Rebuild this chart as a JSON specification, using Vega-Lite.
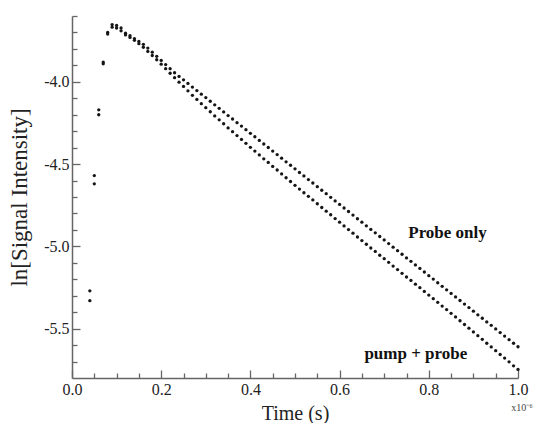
{
  "$schema": "https://vega.github.io/schema/vega-lite/v6.json",
  "width": 446,
  "height": 362,
  "autosize": {"type": "none"},
  "padding": {"left": 72, "top": 16, "right": 15, "bottom": 45},
  "background": "white",
  "config": {"view": {"stroke": null}, "font": "Liberation Serif"},
  "datasets": {
    "decay": [
      {"t":0.04,"probe":-5.27,"pump":-5.33},
      {"t":0.05,"probe":-4.57,"pump":-4.62},
      {"t":0.06,"probe":-4.17,"pump":-4.20},
      {"t":0.07,"probe":-3.88,"pump":-3.89},
      {"t":0.08,"probe":-3.70,"pump":-3.71},
      {"t":0.09,"probe":-3.652,"pump":-3.668},
      {"t":0.10,"probe":-3.657,"pump":-3.673},
      {"t":0.11,"probe":-3.673,"pump":-3.690},
      {"t":0.12,"probe":-3.705,"pump":-3.715},
      {"t":0.13,"probe":-3.720,"pump":-3.730},
      {"t":0.14,"probe":-3.737,"pump":-3.748},
      {"t":0.15,"probe":-3.755,"pump":-3.768},
      {"t":0.16,"probe":-3.772,"pump":-3.790},
      {"t":0.17,"probe":-3.795,"pump":-3.815},
      {"t":0.18,"probe":-3.820,"pump":-3.840},
      {"t":0.19,"probe":-3.845,"pump":-3.866},
      {"t":0.20,"probe":-3.870,"pump":-3.893},
      {"t":0.21,"probe":-3.895,"pump":-3.920},
      {"t":0.22,"probe":-3.920,"pump":-3.948},
      {"t":0.23,"probe":-3.945,"pump":-3.975},
      {"t":0.24,"probe":-3.967,"pump":-4.002},
      {"t":0.25,"probe":-3.988,"pump":-4.028},
      {"t":0.26,"probe":-4.010,"pump":-4.055},
      {"t":0.27,"probe":-4.032,"pump":-4.082},
      {"t":0.28,"probe":-4.053,"pump":-4.107},
      {"t":0.29,"probe":-4.075,"pump":-4.133},
      {"t":0.30,"probe":-4.096,"pump":-4.157},
      {"t":0.31,"probe":-4.118,"pump":-4.182},
      {"t":0.32,"probe":-4.140,"pump":-4.207},
      {"t":0.33,"probe":-4.161,"pump":-4.231},
      {"t":0.34,"probe":-4.183,"pump":-4.255},
      {"t":0.35,"probe":-4.205,"pump":-4.280},
      {"t":0.36,"probe":-4.226,"pump":-4.303},
      {"t":0.37,"probe":-4.248,"pump":-4.327},
      {"t":0.38,"probe":-4.269,"pump":-4.350},
      {"t":0.39,"probe":-4.291,"pump":-4.374},
      {"t":0.40,"probe":-4.313,"pump":-4.398},
      {"t":0.41,"probe":-4.334,"pump":-4.421},
      {"t":0.42,"probe":-4.356,"pump":-4.444},
      {"t":0.43,"probe":-4.378,"pump":-4.468},
      {"t":0.44,"probe":-4.399,"pump":-4.490},
      {"t":0.45,"probe":-4.421,"pump":-4.514},
      {"t":0.46,"probe":-4.442,"pump":-4.536},
      {"t":0.47,"probe":-4.464,"pump":-4.560},
      {"t":0.48,"probe":-4.486,"pump":-4.583},
      {"t":0.49,"probe":-4.507,"pump":-4.606},
      {"t":0.50,"probe":-4.529,"pump":-4.629},
      {"t":0.51,"probe":-4.551,"pump":-4.652},
      {"t":0.52,"probe":-4.572,"pump":-4.674},
      {"t":0.53,"probe":-4.594,"pump":-4.696},
      {"t":0.54,"probe":-4.615,"pump":-4.718},
      {"t":0.55,"probe":-4.637,"pump":-4.741},
      {"t":0.56,"probe":-4.659,"pump":-4.764},
      {"t":0.57,"probe":-4.680,"pump":-4.786},
      {"t":0.58,"probe":-4.702,"pump":-4.808},
      {"t":0.59,"probe":-4.724,"pump":-4.831},
      {"t":0.60,"probe":-4.745,"pump":-4.853},
      {"t":0.61,"probe":-4.767,"pump":-4.876},
      {"t":0.62,"probe":-4.788,"pump":-4.898},
      {"t":0.63,"probe":-4.810,"pump":-4.920},
      {"t":0.64,"probe":-4.832,"pump":-4.943},
      {"t":0.65,"probe":-4.853,"pump":-4.965},
      {"t":0.66,"probe":-4.875,"pump":-4.987},
      {"t":0.67,"probe":-4.897,"pump":-5.010},
      {"t":0.68,"probe":-4.918,"pump":-5.031},
      {"t":0.69,"probe":-4.940,"pump":-5.054},
      {"t":0.70,"probe":-4.961,"pump":-5.075},
      {"t":0.71,"probe":-4.983,"pump":-5.097},
      {"t":0.72,"probe":-5.005,"pump":-5.120},
      {"t":0.73,"probe":-5.026,"pump":-5.141},
      {"t":0.74,"probe":-5.048,"pump":-5.164},
      {"t":0.75,"probe":-5.070,"pump":-5.186},
      {"t":0.76,"probe":-5.091,"pump":-5.207},
      {"t":0.77,"probe":-5.113,"pump":-5.230},
      {"t":0.78,"probe":-5.134,"pump":-5.251},
      {"t":0.79,"probe":-5.156,"pump":-5.274},
      {"t":0.80,"probe":-5.178,"pump":-5.296},
      {"t":0.81,"probe":-5.199,"pump":-5.318},
      {"t":0.82,"probe":-5.221,"pump":-5.340},
      {"t":0.83,"probe":-5.243,"pump":-5.363},
      {"t":0.84,"probe":-5.264,"pump":-5.384},
      {"t":0.85,"probe":-5.286,"pump":-5.407},
      {"t":0.86,"probe":-5.307,"pump":-5.429},
      {"t":0.87,"probe":-5.329,"pump":-5.452},
      {"t":0.88,"probe":-5.351,"pump":-5.475},
      {"t":0.89,"probe":-5.372,"pump":-5.497},
      {"t":0.90,"probe":-5.394,"pump":-5.520},
      {"t":0.91,"probe":-5.416,"pump":-5.543},
      {"t":0.92,"probe":-5.437,"pump":-5.565},
      {"t":0.93,"probe":-5.459,"pump":-5.589},
      {"t":0.94,"probe":-5.480,"pump":-5.611},
      {"t":0.95,"probe":-5.502,"pump":-5.634},
      {"t":0.96,"probe":-5.524,"pump":-5.657},
      {"t":0.97,"probe":-5.545,"pump":-5.679},
      {"t":0.98,"probe":-5.567,"pump":-5.702},
      {"t":0.99,"probe":-5.589,"pump":-5.726},
      {"t":1.00,"probe":-5.610,"pump":-5.748}
    ],
    "notes": [
      {"t":0.842,"v":-4.921,"label":"Probe only"},
      {"t":0.771,"v":-5.652,"label":"pump + probe"}
    ]
  },
  "layer": [
    {
      "data": {"name": "decay"},
      "mark": {"type": "point", "filled": true, "size": 11, "color": "#151515", "opacity": 1},
      "encoding": {
        "x": {
          "field": "t", "type": "quantitative",
          "scale": {"domain": [0, 1], "nice": false, "zero": false},
          "axis": {
            "orient": "bottom", "values": [0, 0.2, 0.4, 0.6, 0.8, 1.0], "format": ".1f",
            "grid": false, "tickSize": -8, "tickColor": "#666", "tickWidth": 1.3,
            "domainColor": "#666", "domainWidth": 1.5,
            "labelFont": "Liberation Serif", "labelFontSize": 16, "labelColor": "#222",
            "labelPadding": 11, "labelFlush": false,
            "title": "Time (s)", "titleFont": "Liberation Serif", "titleFontSize": 20,
            "titleFontWeight": "normal", "titleColor": "#222", "titlePadding": 6
          }
        },
        "y": {
          "field": "probe", "type": "quantitative",
          "scale": {"domain": [-5.8, -3.6], "nice": false, "zero": false},
          "axis": {
            "orient": "left", "values": [-5.5, -5.0, -4.5, -4.0],
            "labelExpr": "replace(format(datum.value, '.1f'), '\u2212', '-')",
            "grid": false, "tickSize": -8, "tickColor": "#666", "tickWidth": 1.3,
            "domainColor": "#666", "domainWidth": 1.5,
            "labelFont": "Liberation Serif", "labelFontSize": 16, "labelColor": "#222",
            "labelPadding": 11,
            "title": "ln[Signal Intensity]", "titleFont": "Liberation Serif", "titleFontSize": 23,
            "titleFontWeight": "normal", "titleColor": "#222", "titlePadding": 12
          }
        }
      }
    },
    {
      "data": {"name": "decay"},
      "mark": {"type": "point", "filled": true, "size": 11, "color": "#151515", "opacity": 1},
      "encoding": {
        "x": {
          "field": "t", "type": "quantitative",
          "axis": {
            "orient": "bottom",
            "values": [0.05, 0.1, 0.15, 0.25, 0.3, 0.35, 0.45, 0.5, 0.55, 0.65, 0.7, 0.75, 0.85, 0.9, 0.95],
            "grid": false, "tickSize": -5, "tickColor": "#666", "tickWidth": 1.3,
            "domain": false, "labels": false, "title": null
          }
        },
        "y": {
          "field": "pump", "type": "quantitative",
          "axis": {
            "orient": "left",
            "values": [-5.7, -5.6, -5.4, -5.3, -5.2, -5.1, -4.9, -4.8, -4.7, -4.6, -4.4, -4.3, -4.2, -4.1, -3.9, -3.8, -3.7, -3.6],
            "grid": false, "tickSize": -5, "tickColor": "#666", "tickWidth": 1.3,
            "domain": false, "labels": false, "title": null
          }
        }
      }
    },
    {
      "data": {"name": "notes"},
      "mark": {"type": "text", "font": "Liberation Serif", "fontSize": 17, "fontWeight": "bold", "color": "#111", "align": "center", "baseline": "middle"},
      "encoding": {
        "x": {"field": "t", "type": "quantitative", "axis": null},
        "y": {"field": "v", "type": "quantitative", "axis": null},
        "text": {"field": "label"}
      }
    },
    {
      "data": {"values": [{"t": 0.985, "v": -5.985, "label": "x10⁻⁶"}]},
      "mark": {"type": "text", "font": "Liberation Serif", "fontSize": 10, "color": "#444", "align": "left", "baseline": "middle"},
      "encoding": {
        "x": {"field": "t", "type": "quantitative", "axis": null},
        "y": {"field": "v", "type": "quantitative", "axis": null},
        "text": {"field": "label"}
      }
    }
  ],
  "resolve": {"axis": {"x": "independent", "y": "independent"}}
}
